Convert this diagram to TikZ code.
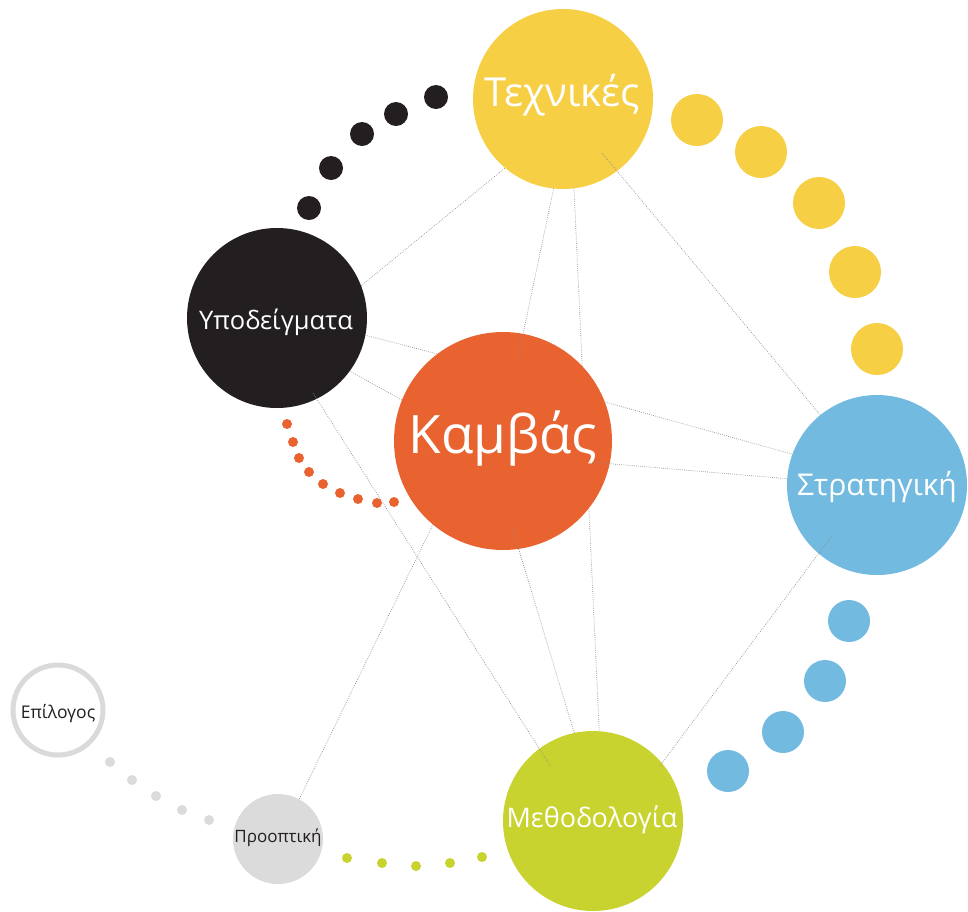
\documentclass[tikz,border=0pt]{standalone}
\usepackage{fontspec}
\setmainfont{Open Sans}
\usetikzlibrary{calc,backgrounds}
\definecolor{cyel}{HTML}{F6CF45}
\definecolor{cblk}{HTML}{231F20}
\definecolor{corg}{HTML}{E96331}
\definecolor{cblu}{HTML}{72BAE0}
\definecolor{cgrn}{HTML}{C8D32F}
\definecolor{cgry}{HTML}{DCDBDB}
\definecolor{cring}{HTML}{DADADA}
\definecolor{cline}{HTML}{8A8A8A}
\begin{document}
\begin{tikzpicture}[x=1pt,y=-1pt,
  bubble/.style={circle,inner sep=0pt,outer sep=0pt,draw=none,minimum size=#1},
  lbl/.style={inner sep=0pt,text=white},
  link/.style={draw=cline,line width=0.7pt,dash pattern=on 0.7pt off 1.4pt},
  dotb/.style={circle,inner sep=0pt,outer sep=0pt,fill=cblk,minimum size=24pt},
  doty/.style={circle,inner sep=0pt,outer sep=0pt,fill=cyel,minimum size=52pt},
  dotu/.style={circle,inner sep=0pt,outer sep=0pt,fill=cblu,minimum size=42pt},
  doto/.style={circle,inner sep=0pt,outer sep=0pt,fill=corg,minimum size=10pt},
  dotg/.style={circle,inner sep=0pt,outer sep=0pt,fill=cgrn,minimum size=10pt},
  dotr/.style={circle,inner sep=0pt,outer sep=0pt,fill=cgry,minimum size=10pt}]
\useasboundingbox (0,0) rectangle (968,911);

% main bubbles
\node[bubble=180pt,fill=cyel] (tex) at (563,99) {};
\node[bubble=180pt,fill=cblk] (ypo) at (277,318) {};
\node[bubble=218pt,fill=corg] (kam) at (503,441) {};
\node[bubble=180pt,fill=cblu] (str) at (877,485) {};
\node[bubble=180pt,fill=cgrn] (met) at (593,821) {};
\node[bubble=90pt,fill=cgry] (pro) at (278,839) {};
\node[circle,inner sep=0pt,outer sep=0pt,minimum size=90pt,draw=cring,line width=5pt,fill=white] (epi) at (58,710) {};

% labels
\node[lbl,font=\fontsize{40}{40}\selectfont] (tex-t) at (562,95) {Τεχνικές};
\node[lbl,font=\fontsize{53}{53}\selectfont] (kam-t) at (503,438) {Καμβάς};
\node[lbl,font=\fontsize{25.5}{25.5}\selectfont] (ypo-t) at (276,322) {Υποδείγματα};
\node[lbl,font=\fontsize{30}{30}\selectfont] (str-t) at (877,487) {Στρατηγική};
\node[lbl,font=\fontsize{27}{27}\selectfont] (met-t) at (592,820) {Μεθοδολογία};
\node[lbl,text=cblk,font=\fontsize{17}{17}\selectfont] (pro-t) at (278,838) {Προοπτική};
\node[lbl,text=cblk,font=\fontsize{17.5}{17.5}\selectfont] (epi-t) at (58,714) {Επίλογος};

% connector passing under Kambas
\begin{pgfonlayer}{background}
\draw[link] (tex.277) -- (met.86);
\end{pgfonlayer}

% connectors
\draw[link] (ypo.21) -- (tex.230);
\draw[link] (tex.264) -- ($(kam)+(15,-83)$);
\draw[link] ($(tex)+(39,54)$) -- (str.129);
\draw[link] (kam.21) -- (str.160);
\draw[link] ($(kam)+(87,21)$) -- (str.176);
\draw[link] (ypo.349) -- (kam.127);
\draw[link] (ypo.324) -- (kam.158);
\draw[link] ($(ypo)+(36,75)$) -- ($(met)+(-42,-54)$);
\draw[link] (kam.230) -- (pro.62);
\draw[link] ($(kam)+(9,86)$) -- (met.102);
\draw[link] ($(str)+(-46,52)$) -- ($(met)+(66,-54)$);

% dot trails
\node[dotb] (b1) at (309,208) {};
\node[dotb] (b2) at (331,168) {};
\node[dotb] (b3) at (362,134) {};
\node[dotb] (b4) at (396,114) {};
\node[dotb] (b5) at (436,97) {};

\node[doty] (y1) at (697,120) {};
\node[doty] (y2) at (761,152) {};
\node[doty] (y3) at (819,203) {};
\node[doty] (y4) at (855,272) {};
\node[doty] (y5) at (877,349) {};

\node[dotu] (u1) at (849,621) {};
\node[dotu] (u2) at (825,681) {};
\node[dotu] (u3) at (783,732) {};
\node[dotu] (u4) at (728,771) {};

\node[doto] (o1) at (287,424) {};
\node[doto] (o2) at (293,442) {};
\node[doto] (o3) at (299,458) {};
\node[doto] (o4) at (309,472) {};
\node[doto] (o5) at (323,484) {};
\node[doto] (o6) at (340,493) {};
\node[doto] (o7) at (358,499) {};
\node[doto] (o8) at (377,503) {};
\node[doto] (o9) at (394,502) {};

\node[dotg] (g1) at (347,858) {};
\node[dotg] (g2) at (382,863) {};
\node[dotg] (g3) at (416,866) {};
\node[dotg] (g4) at (450,863) {};
\node[dotg] (g5) at (482,857) {};

\node[dotr] (r1) at (110,762) {};
\node[dotr] (r2) at (132,780) {};
\node[dotr] (r3) at (156,796) {};
\node[dotr] (r4) at (182,810) {};
\node[dotr] (r5) at (209,820) {};
\end{tikzpicture}
\end{document}
